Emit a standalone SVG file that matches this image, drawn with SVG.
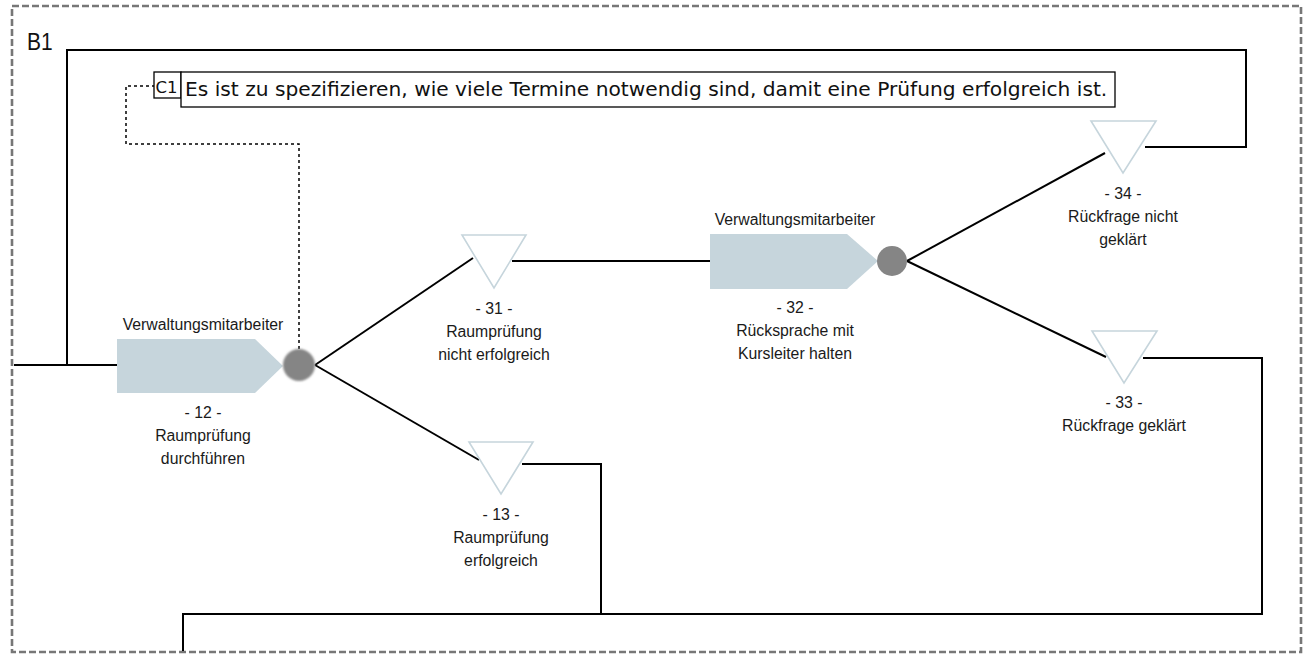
<svg xmlns="http://www.w3.org/2000/svg" width="1310" height="656" viewBox="0 0 1310 656">
<style>
.lbl{font-family:"Liberation Sans",Arial,sans-serif;font-size:15.8px;fill:#1a1a1a;text-anchor:middle}
.fn{fill:#c6d5dc;stroke:none}
.ev{fill:#fff;stroke:#c6d5dc;stroke-width:1.6}
.con{fill:none;stroke:#000;stroke-width:2}
.gate{fill:#858585}
</style>
<defs>
<filter id="soft" x="-20%" y="-20%" width="140%" height="140%"><feGaussianBlur stdDeviation="0.9"/></filter>
</defs>
<rect x="12" y="6" width="1289" height="646" fill="none" stroke="#777" stroke-width="2.6" stroke-dasharray="7,3"/>
<text x="27" y="50" font-family="Liberation Sans,Arial,sans-serif" font-size="21" fill="#111" transform="translate(27,50) scale(1,1.12) translate(-27,-50)">B1</text>
<g id="connectors">
<polyline class="con" points="14,365 117,365"/>
<polyline class="con" points="1145,147 1246,147 1246,50 67,50 67,365"/>
<polyline class="con" points="315,365 473,258"/>
<polyline class="con" points="315,365 479,460"/>
<polyline class="con" points="512,261 710,261"/>
<polyline class="con" points="907,261 1105,153"/>
<polyline class="con" points="907,261 1106,357"/>
<polyline class="con" points="522,464 601,464 601,614"/>
<polyline class="con" points="1143,358 1262,358 1262,614 183,614 183,651"/>
<polyline fill="none" stroke="#000" stroke-width="1.5" stroke-dasharray="3,3" points="299,349 299,144 126,144 126,86 154,86"/>
</g>
<g id="C1">
<rect x="154" y="72" width="27" height="26" fill="#fff" stroke="#000" stroke-width="1.3"/>
<text x="155.5" y="93" font-family="DejaVu Sans,sans-serif" font-size="16.5" fill="#111">C1</text>
<rect x="181" y="72" width="934" height="35" fill="#fff" stroke="#000" stroke-width="1.3"/>
<text x="185" y="96" font-family="DejaVu Sans,sans-serif" font-size="20.2" fill="#111">Es ist zu spezifizieren, wie viele Termine notwendig sind, damit eine Prüfung erfolgreich ist.</text>
</g>
<g id="n12">
<text class="lbl" x="203" y="330">Verwaltungsmitarbeiter</text>
<polygon class="fn" points="117,339 255,339 283,366 255,393 117,393"/>
<circle class="gate" cx="299" cy="365" r="16" filter="url(#soft)"/>
<text class="lbl" x="203" y="418">- 12 -</text>
<text class="lbl" x="203" y="441">Raumprüfung</text>
<text class="lbl" x="203" y="464">durchführen</text>
</g>
<g id="n31">
<polygon class="ev" points="462,235 526,235 494,288"/>
<text class="lbl" x="494" y="314">- 31 -</text>
<text class="lbl" x="494" y="337">Raumprüfung</text>
<text class="lbl" x="494" y="360">nicht erfolgreich</text>
</g>
<g id="n13">
<polygon class="ev" points="469,442 533,442 501,494"/>
<text class="lbl" x="501" y="520">- 13 -</text>
<text class="lbl" x="501" y="543">Raumprüfung</text>
<text class="lbl" x="501" y="566">erfolgreich</text>
</g>
<g id="n32">
<text class="lbl" x="795" y="225">Verwaltungsmitarbeiter</text>
<polygon class="fn" points="710,234 847,234 878,261 847,289 710,289"/>
<circle class="gate" cx="892" cy="261" r="15"/>
<text class="lbl" x="795" y="313">- 32 -</text>
<text class="lbl" x="795" y="336">Rücksprache mit</text>
<text class="lbl" x="795" y="359">Kursleiter halten</text>
</g>
<g id="n34">
<polygon class="ev" points="1091,121 1156,121 1123,173"/>
<text class="lbl" x="1123" y="199">- 34 -</text>
<text class="lbl" x="1123" y="222">Rückfrage nicht</text>
<text class="lbl" x="1123" y="245">geklärt</text>
</g>
<g id="n33">
<polygon class="ev" points="1092,331 1157,331 1124,383"/>
<text class="lbl" x="1124" y="408">- 33 -</text>
<text class="lbl" x="1124" y="431">Rückfrage geklärt</text>
</g>
</svg>
